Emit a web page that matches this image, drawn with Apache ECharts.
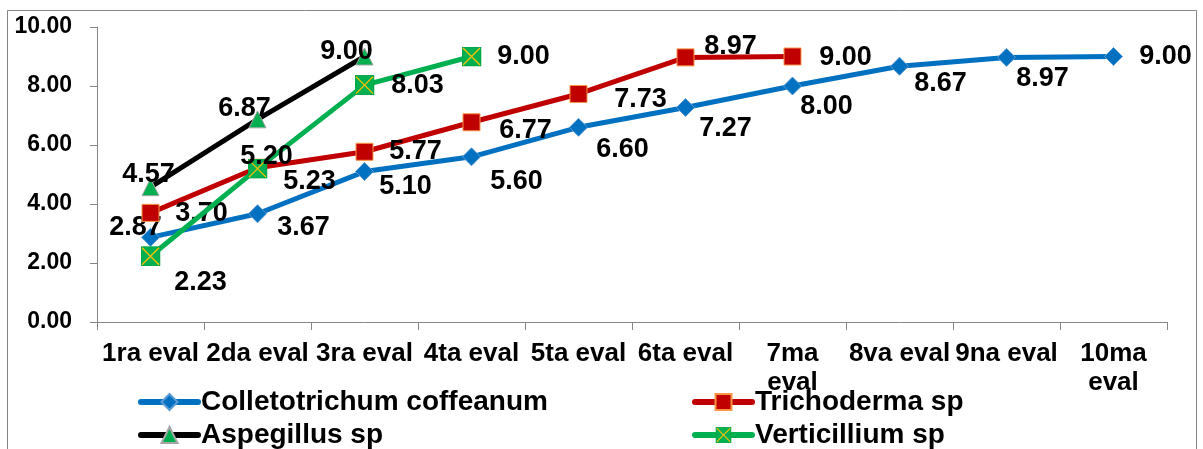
<!DOCTYPE html>
<html>
<head>
<meta charset="utf-8">
<script src="https://cdn.jsdelivr.net/npm/echarts@6/dist/echarts.min.js"></script>
<style>
  html, body { margin: 0; padding: 0; background: #fff; }
  #chart { width: 1203px; height: 449px; }
</style>
</head>
<body>
<div id="chart"></div>
<script>
// datos
var categories = ['1ra eval', '2da eval', '3ra eval', '4ta eval', '5ta eval', '6ta eval', '7ma eval', '8va eval', '9na eval', '10ma eval'];
var yTicks = [0, 2, 4, 6, 8, 10];
var colletotrichum = [2.87, 3.67, 5.10, 5.60, 6.60, 7.27, 8.00, 8.67, 8.97, 9.00];
var trichoderma = [3.70, 5.23, 5.77, 6.77, 7.73, 8.97, 9.00];
var aspegillus = [4.57, 6.87, 9.00];
var verticillium = [2.23, 5.20, 8.03, 9.00];

// desplazamiento de etiquetas (px, respecto al punto)
var offColl = [[-15, -10], [46, 14], [41, 15], [45, 25], [44, 22], [40, 21], [34, 21], [41, 17], [36, 21], [52, 0]];
var offTrich = [[51, 1], [52, 14], [51, 0], [54, 8], [62, 6], [45, -11], [53, 1]];
var offAsp = [[-2, -13], [-13, -11], [-18, -5]];
var offVert = [[50, 26], [9, -12], [53, 0], [52, 0]];

var FONT = 'Liberation Sans, Arial, sans-serif';

function conEtiquetas(valores, offs) {
  return valores.map(function (v, i) {
    return { value: v, label: { offset: offs[i] } };
  });
}

var svgX = "<svg xmlns='http://www.w3.org/2000/svg' width='20' height='20'>" +
  "<rect x='0.5' y='0.5' width='19' height='19' fill='#00B050' stroke='#00A040'/>" +
  "<path d='M1.5 1.5L18.5 18.5M18.5 1.5L1.5 18.5' stroke='#FFC000' stroke-width='1.3'/></svg>";
var simboloVert = 'image://data:image/svg+xml;charset=utf-8,' + encodeURIComponent(svgX);

var etiqueta = {
  show: true,
  position: 'inside',
  color: '#000',
  fontFamily: FONT,
  fontSize: 27,
  fontWeight: 'bold',
  formatter: function (p) { return p.value.toFixed(2); }
};

function leyenda(nombre, x, y) {
  return {
    left: x,
    top: y,
    padding: 0,
    itemWidth: 57,
    itemHeight: 20,
    data: [nombre],
    lineStyle: { width: 6, cap: 'round' },
    textStyle: { fontFamily: FONT, fontSize: 28, fontWeight: 'bold', color: '#000', lineHeight: 28, padding: [0, 0, 0, -2] }
  };
}

var option = {
  animation: false,
  backgroundColor: '#fff',
  graphic: [{
    type: 'rect',
    shape: { x: 7.5, y: 10.5, width: 1189, height: 460 },
    style: { fill: 'none', stroke: '#868686', lineWidth: 1 },
    silent: true
  }],
  grid: { left: 97, right: 36, top: 27, bottom: 127 },
  legend: [
    leyenda('Colletotrichum coffeanum', 138, 388),
    leyenda('Trichoderma sp', 692, 388),
    leyenda('Aspegillus sp', 138, 421),
    leyenda('Verticillium sp', 692, 421)
  ],
  xAxis: {
    type: 'category',
    data: categories,
    boundaryGap: true,
    axisLine: { lineStyle: { color: '#868686', width: 1 } },
    axisTick: { show: true, length: 8, lineStyle: { color: '#868686' } },
    axisLabel: {
      interval: 0,
      margin: 17,
      color: '#000',
      fontFamily: FONT,
      fontSize: 26,
      fontWeight: 'bold',
      lineHeight: 29,
      formatter: function (v, i) {
        return (i === 6 || i === 9) ? v.replace(' ', '\n') : v;
      }
    },
    splitLine: { show: false }
  },
  yAxis: {
    type: 'value',
    min: yTicks[0],
    max: yTicks[yTicks.length - 1],
    interval: 2,
    axisLine: { show: true, lineStyle: { color: '#868686', width: 1 } },
    axisTick: { show: true, length: 7, lineStyle: { color: '#868686' } },
    axisLabel: {
      margin: 25,
      color: '#000',
      fontFamily: FONT,
      fontSize: 23,
      fontWeight: 'bold',
      formatter: function (v) { return v.toFixed(2); }
    },
    splitLine: { show: false }
  },
  series: [{
    name: 'Colletotrichum coffeanum',
    type: 'line',
    data: conEtiquetas(colletotrichum, offColl),
    symbol: 'diamond',
    symbolSize: 18,
    color: '#0070C0',
    lineStyle: { color: '#0070C0', width: 5 },
    itemStyle: { color: '#0070C0', borderColor: '#5B9BD5', borderWidth: 1 },
    label: etiqueta,
    z: 2
  }, {
    name: 'Trichoderma sp',
    type: 'line',
    data: conEtiquetas(trichoderma, offTrich),
    symbol: 'rect',
    symbolSize: 17,
    color: '#C00000',
    lineStyle: { color: '#C00000', width: 5 },
    itemStyle: { color: '#C00000', borderColor: '#F79646', borderWidth: 1 },
    label: etiqueta,
    z: 3
  }, {
    name: 'Aspegillus sp',
    type: 'line',
    data: conEtiquetas(aspegillus, offAsp),
    symbol: 'triangle',
    symbolSize: 17,
    color: '#000000',
    lineStyle: { color: '#000000', width: 5 },
    itemStyle: { color: '#00B050', borderColor: '#A6A6A6', borderWidth: 1 },
    label: etiqueta,
    z: 4
  }, {
    name: 'Verticillium sp',
    type: 'line',
    data: conEtiquetas(verticillium, offVert),
    symbol: simboloVert,
    symbolSize: 20,
    color: '#00B050',
    lineStyle: { color: '#00B050', width: 5 },
    itemStyle: { color: '#00B050' },
    label: etiqueta,
    z: 5
  }]
};

var chart = echarts.init(document.getElementById('chart'));
chart.setOption(option);
</script>
</body>
</html>
